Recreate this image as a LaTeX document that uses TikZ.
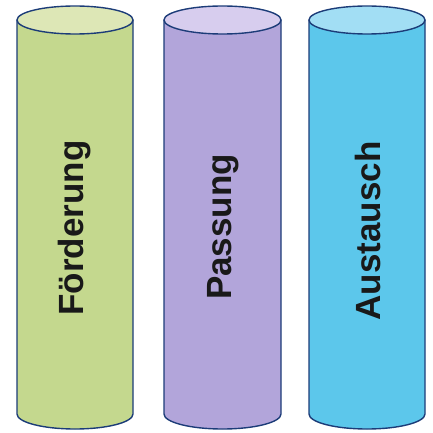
\documentclass[tikz,border=0pt]{standalone}
\usepackage{fontspec}
\setmainfont{Liberation Sans}
\definecolor{rimblue}{HTML}{1C3C78}
\definecolor{foerdbody}{HTML}{C4D88E}
\definecolor{foerdtop}{HTML}{DDE7B6}
\definecolor{passbody}{HTML}{B2A5DA}
\definecolor{passtop}{HTML}{D7CDEE}
\definecolor{austbody}{HTML}{5CC7EB}
\definecolor{austtop}{HTML}{A2DEF4}
\tikzset{
  pillar/.style={draw=rimblue, line width=1.4pt, line join=round},
  pillartext/.style={rotate=90, text=black!90, font=\bfseries\fontsize{35}{40}\selectfont}
}
\begin{document}
\begin{tikzpicture}[x=1pt,y=1pt]
\useasboundingbox (0,0) rectangle (433,432);

% Foerderung
\draw[pillar, fill=foerdbody] (17,412) -- (17,18) arc[start angle=180, end angle=360, x radius=58, y radius=15] -- (133,412) -- cycle;
\draw[pillar, fill=foerdtop] (75,412) ellipse[x radius=58, y radius=14];
\node[pillartext] (foerderung) at (75,204) {Förderung};

% Passung
\draw[pillar, fill=passbody] (164,412) -- (164,18) arc[start angle=180, end angle=360, x radius=58.5, y radius=15] -- (281,412) -- cycle;
\draw[pillar, fill=passtop] (222.5,412) ellipse[x radius=58.5, y radius=14];
\node[pillartext] (passung) at (223,205) {Passung};

% Austausch
\draw[pillar, fill=austbody] (309,412) -- (309,18) arc[start angle=180, end angle=360, x radius=58, y radius=15] -- (425,412) -- cycle;
\draw[pillar, fill=austtop] (367,412) ellipse[x radius=58, y radius=14];
\node[pillartext] (austausch) at (368,201) {Austausch};
\end{tikzpicture}
\end{document}
